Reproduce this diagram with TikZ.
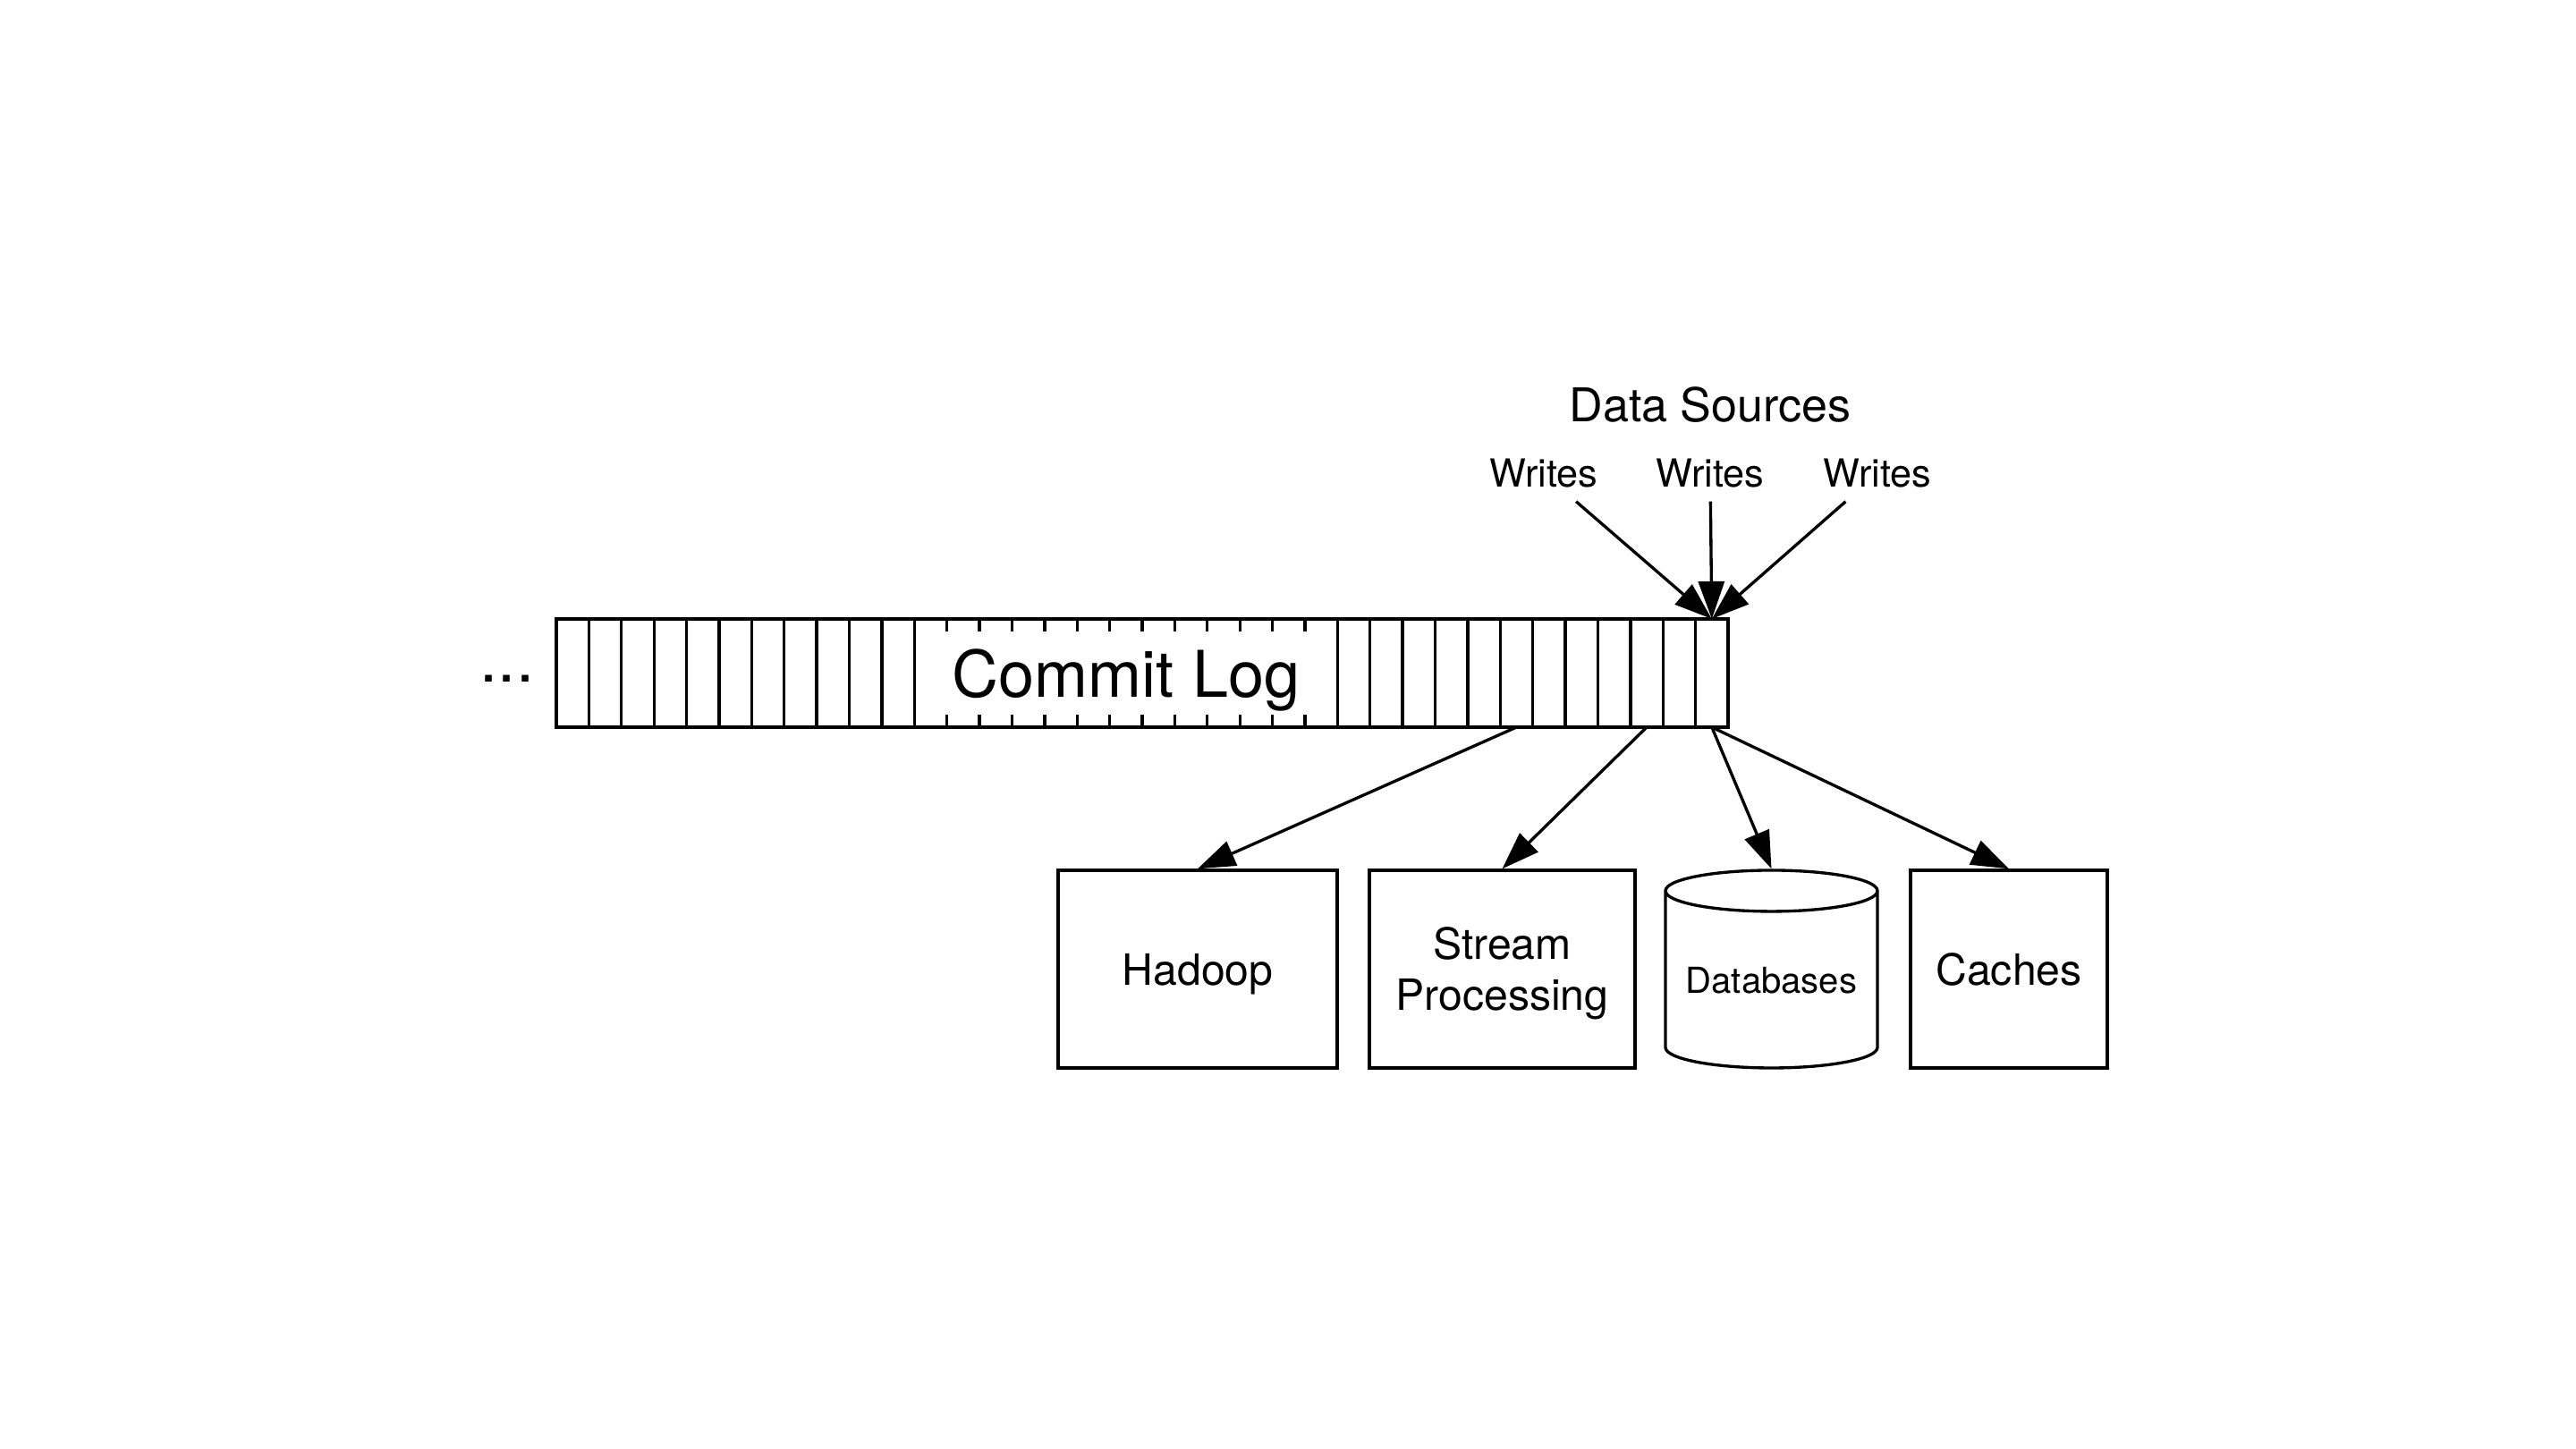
\documentclass[tikz,border=0pt]{standalone}
\usepackage{fontspec}
\setmainfont{TeX Gyre Heros}
\usetikzlibrary{arrows.meta,shapes.geometric}
\begin{document}
\begin{tikzpicture}[
  line width=0.95pt,
  cell/.style={minimum width=0.36389cm, minimum height=1.21cm, inner sep=0pt, outer sep=0pt},
  sink/.style={draw, minimum height=2.21cm, inner sep=0pt, text depth=0pt, align=center, font=\fontsize{13.7}{16.2}\selectfont},
  flow/.style={-{Triangle[length=0.42cm,width=0.29cm]}},
  writes/.style={font=\fontsize{12.3}{14}\selectfont, inner sep=0.135cm}
]
\useasboundingbox (0,0) rectangle (28.8,16.2);
\node[draw, minimum width=13.1cm, minimum height=1.21cm, inner sep=0pt] (log) at (12.77,8.675) {};
\foreach \i in {0,...,35}
  \node[cell] (c\i) at ({6.22+(\i+0.5)*0.36389},8.675) {};
\foreach \i in {1,...,11}
  \draw (c\i.north west) -- (c\i.south west);
\foreach \i in {24,...,35}
  \draw (c\i.north west) -- (c\i.south west);
\foreach \i in {12,...,23} {
  \draw (c\i.north west) -- ++(0,-0.14);
  \draw (c\i.south west) -- ++(0,0.14);
}
\node[anchor=base, font=\fontsize{20.5}{24}\selectfont] (title) at (12.59,8.40) {Commit Log};
\node[anchor=base, font=\fontsize{20.5}{24}\selectfont] (dots) at (5.67,8.57) {...};
\node[anchor=base, font=\fontsize{14.8}{17}\selectfont] (sources) at (19.12,11.48) {Data Sources};
\node[writes] (w1) at (17.26,10.905) {Writes};
\node[writes] (w2) at (19.12,10.905) {Writes};
\node[writes] (w3) at (20.99,10.905) {Writes};
\node[sink, minimum width=3.12cm] (hadoop) at (13.39,5.365) {Hadoop};
\node[sink, minimum width=2.97cm] (stream) at (16.795,5.365) {Stream\\Processing};
\node[draw, cylinder, shape border rotate=90, aspect=0.24, minimum width=2.37cm, minimum height=2.21cm, inner sep=0pt, anchor=shape center, font=\fontsize{11.4}{14}\selectfont] (db) at (19.805,5.365) {Databases};
\node[sink, minimum width=2.2cm] (caches) at (22.46,5.365) {Caches};
\draw[flow] (w1) -- (c35.north);
\draw[flow] (w2) -- (c35.north);
\draw[flow] (w3) -- (c35.north);
\draw[flow] (c29.south) -- (hadoop.north);
\draw[flow] (c33.south) -- (stream.north);
\draw[flow] (c35.south) -- (db.north);
\draw[flow] (c35.south) -- (caches.north);
\end{tikzpicture}
\end{document}
